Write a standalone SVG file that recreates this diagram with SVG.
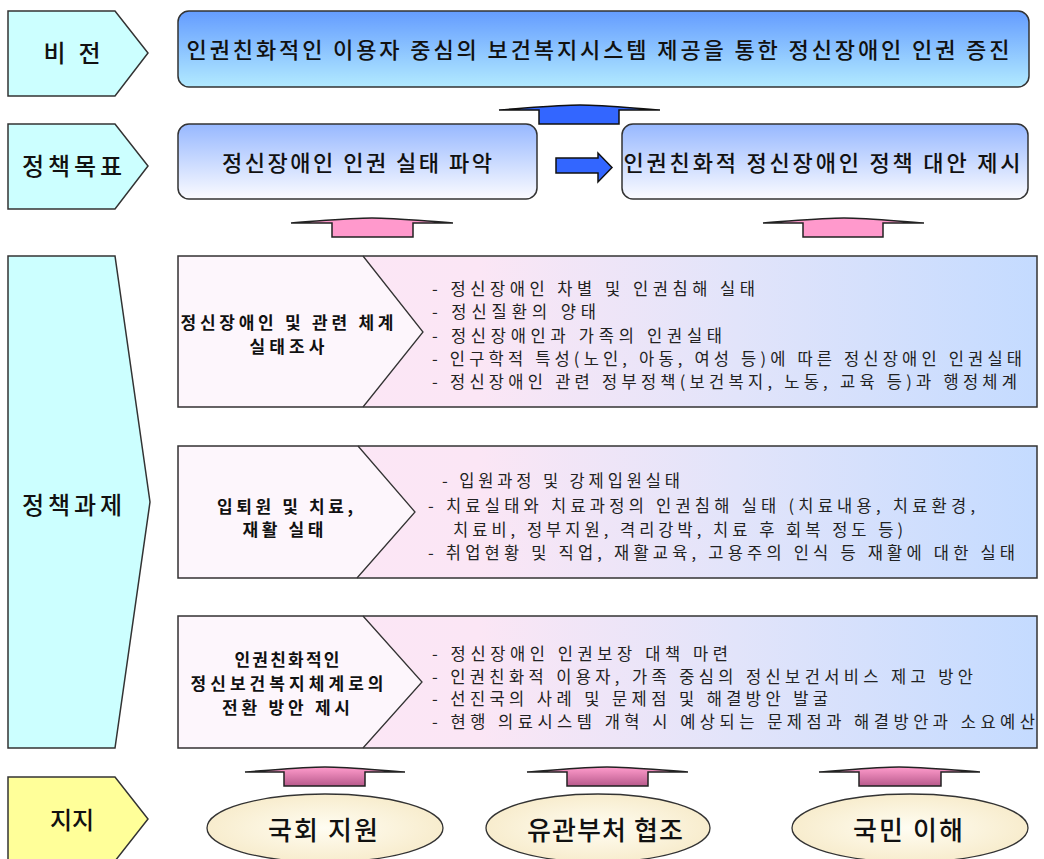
<svg xmlns="http://www.w3.org/2000/svg" width="1044" height="859" viewBox="0 0 1044 859">
<defs>
<linearGradient id="gVision" x1="0" y1="0" x2="0" y2="1"><stop offset="0" stop-color="#649cff"/><stop offset="1" stop-color="#b2eaff"/></linearGradient>
<linearGradient id="gGoal" x1="0" y1="0" x2="0" y2="1"><stop offset="0" stop-color="#97b8ff"/><stop offset="1" stop-color="#fbfbff"/></linearGradient>
<linearGradient id="gTask" x1="0" y1="0" x2="1" y2="0"><stop offset="0" stop-color="#fde6f5"/><stop offset="0.35" stop-color="#fbe6f5"/><stop offset="0.65" stop-color="#e2e4fa"/><stop offset="1" stop-color="#c4dbff"/></linearGradient>
<linearGradient id="gPinkDark" x1="0" y1="0" x2="0" y2="1"><stop offset="0" stop-color="#ff9ccc"/><stop offset="1" stop-color="#b85a8c"/></linearGradient>
<radialGradient id="gEll" cx="0.5" cy="0.5" r="0.6"><stop offset="0" stop-color="#fffdf2"/><stop offset="1" stop-color="#f6e9c6"/></radialGradient>
</defs>
<style>
.lab{fill:#ccffff;stroke:#333;stroke-width:1.5}
.labY{fill:#ffff99;stroke:#333;stroke-width:1.5}
.head{font-family:"Noto Sans CJK KR","Noto Sans",sans-serif;font-size:24px;font-weight:500;fill:#111;text-anchor:middle}
.big{font-family:"Noto Sans CJK KR","Noto Sans",sans-serif;font-size:22px;font-weight:500;fill:#111;text-anchor:middle}
.tl{font-family:"Noto Sans CJK KR","Noto Sans",sans-serif;font-size:17px;font-weight:bold;fill:#111;text-anchor:middle}
.bd{font-family:"Noto Sans CJK KR","Noto Sans",sans-serif;font-size:16.5px;fill:#222}
.ell{font-family:"Noto Sans CJK KR","Noto Sans",sans-serif;font-size:26px;font-weight:500;fill:#111;text-anchor:middle}
.box{stroke:#333;stroke-width:1.5}
.chev{fill:#fdf6fc;stroke:none}
.chevl{fill:none;stroke:#333;stroke-width:1.3}
.arrB{fill:#3366ff;stroke:#111;stroke-width:1.5}
.arrP{fill:#ff99cc;stroke:#222;stroke-width:1.5}
.arrPD{fill:url(#gPinkDark);stroke:#222;stroke-width:1.5}
.elli{fill:url(#gEll);stroke:#333;stroke-width:1.3}
</style>

<g id="label-vision"><polygon class="lab" points="8,11 115,11 148,53 115,96 8,96"/><text class="head" x="72" y="62" textLength="57">비 전</text></g>
<g id="label-goal"><polygon class="lab" points="8,124 115,124 148,166 115,209 8,209"/><text class="head" x="72" y="175" textLength="100">정책목표</text></g>
<g id="label-task"><polygon class="lab" points="8,256 115,256 150,502 115,748 8,748"/><text class="head" x="72" y="514" textLength="100">정책과제</text></g>
<g id="label-support"><polygon class="labY" points="8,777 115,777 148,819 115,861 8,861"/><text class="head" x="72" y="829">지지</text></g>

<g id="vision"><rect class="box" x="178" y="11" width="851" height="76" rx="11" fill="url(#gVision)"/><text class="big" x="598" y="58" textLength="823">인권친화적인 이용자 중심의 보건복지시스템 제공을 통한 정신장애인 인권 증진</text></g>

<g id="goal1"><rect class="box" x="178" y="124" width="359" height="75" rx="11" fill="url(#gGoal)"/><text class="big" x="357" y="171" textLength="270">정신장애인 인권 실태 파악</text></g>
<g id="goal2"><rect class="box" x="622" y="124" width="406" height="75" rx="11" fill="url(#gGoal)"/><text class="big" x="822" y="171" textLength="397">인권친화적 정신장애인 정책 대안 제시</text></g>

<g id="task1">
<rect class="box" x="178" y="256" width="859" height="151" fill="url(#gTask)"/>
<polygon class="chev" points="179,257 363,257 423,332 363,406 179,406"/>
<polyline class="chevl" points="363,256 423,332 363,407"/>
<text class="tl" x="287" y="329" textLength="213">정신장애인 및 관련 체계</text>
<text class="tl" x="287" y="353" textLength="75">실태조사</text>
<text class="bd" x="432" y="295" textLength="323">- 정신장애인 차별 및 인권침해 실태</text>
<text class="bd" x="432" y="318" textLength="164">- 정신질환의 양태</text>
<text class="bd" x="432" y="342" textLength="290">- 정신장애인과 가족의 인권실태</text>
<text class="bd" x="432" y="365" textLength="590">- 인구학적 특성(노인, 아동, 여성 등)에 따른 정신장애인 인권실태</text>
<text class="bd" x="432" y="388" textLength="585">- 정신장애인 관련 정부정책(보건복지, 노동, 교육 등)과 행정체계</text>
</g>

<g id="task2">
<rect class="box" x="178" y="446" width="859" height="132" fill="url(#gTask)"/>
<polygon class="chev" points="179,447 358,447 415,512 357,577 179,577"/>
<polyline class="chevl" points="358,446 415,512 357,578"/>
<text class="tl" x="285" y="513" textLength="136">입퇴원 및 치료,</text>
<text class="tl" x="283" y="536" textLength="81">재활 실태</text>
<text class="bd" x="442" y="487" textLength="238">- 입원과정 및 강제입원실태</text>
<text class="bd" x="428" y="512" textLength="547">- 치료실태와 치료과정의 인권침해 실태 (치료내용, 치료환경,</text>
<text class="bd" x="453" y="536" textLength="450">치료비, 정부지원, 격리강박, 치료 후 회복 정도 등)</text>
<text class="bd" x="428" y="559" textLength="587">- 취업현황 및 직업, 재활교육, 고용주의 인식 등 재활에 대한 실태</text>
</g>

<g id="task3">
<rect class="box" x="178" y="616" width="859" height="132" fill="url(#gTask)"/>
<polygon class="chev" points="179,617 363,617 422,682 363,747 179,747"/>
<polyline class="chevl" points="363,616 422,682 363,748"/>
<text class="tl" x="287" y="666" textLength="105">인권친화적인</text>
<text class="tl" x="287" y="690" textLength="193">정신보건복지체계로의</text>
<text class="tl" x="286" y="714" textLength="128">전환 방안 제시</text>
<text class="bd" x="432" y="660" textLength="296">- 정신장애인 인권보장 대책 마련</text>
<text class="bd" x="432" y="682.5" textLength="541">- 인권친화적 이용자, 가족 중심의 정신보건서비스 제고 방안</text>
<text class="bd" x="432" y="705" textLength="396">- 선진국의 사례 및 문제점 및 해결방안 발굴</text>
<text class="bd" x="432" y="727.5" textLength="603">- 현행 의료시스템 개혁 시 예상되는 문제점과 해결방안과 소요예산</text>
</g>

<g id="support1"><ellipse class="elli" cx="325" cy="828" rx="118" ry="34"/><text class="ell" x="323" y="840" textLength="110">국회 지원</text></g>
<g id="support2"><ellipse class="elli" cx="598" cy="828" rx="112" ry="34"/><text class="ell" x="605" y="840" textLength="156">유관부처 협조</text></g>
<g id="support3"><ellipse class="elli" cx="910" cy="828" rx="118" ry="34"/><text class="ell" x="908" y="840" textLength="110">국민 이해</text></g>

<g id="connectors">
<path class="arrB" d="M499,110 C540,107 560,105 580,105 C600,105 620,107 660,110 L619,110 L619,124 L539,124 L539,110 Z"/>
<polygon class="arrB" points="556,158 598,158 598,153 612,167.5 598,182 598,173 556,173"/>
<path class="arrP" d="M291,223 C332,220 352,218 372,218 C392,218 412,220 453,223 L413,223 L413,237 L332,237 L332,223 Z"/>
<path class="arrP" d="M763,223 C804,220 824,218 844,218 C864,218 884,220 924,223 L883,223 L883,237 L803,237 L803,223 Z"/>
<path class="arrPD" d="M245,772 C285,769 305,767 325,767 C345,767 365,769 405,772 L365,772 L365,786 L284,786 L284,772 Z"/>
<path class="arrPD" d="M527,772 C567,769 587,767 607,767 C627,767 647,769 688,772 L648,772 L648,786 L567,786 L567,772 Z"/>
<path class="arrPD" d="M819,772 C859,769 879,767 899,767 C919,767 939,769 980,772 L941,772 L941,786 L859,786 L859,772 Z"/>
</g>
</svg>
